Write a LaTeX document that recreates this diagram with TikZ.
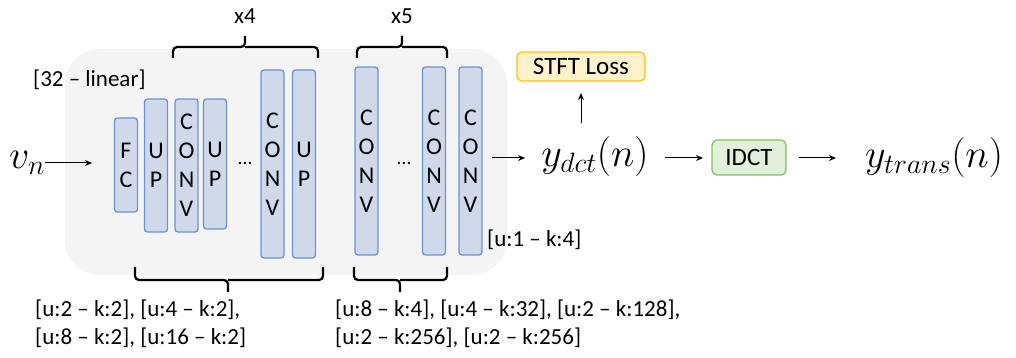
\RequirePackage{fix-cm}
\documentclass[tikz,border=0pt]{standalone}
\usepackage{fontspec}
\setmainfont{Carlito}
\usetikzlibrary{arrows.meta}
\definecolor{bgg}{HTML}{F4F4F4}
\definecolor{blkf}{HTML}{CFD9EA}
\definecolor{blkb}{HTML}{6A92D4}
\definecolor{grf}{HTML}{E2EFDA}
\definecolor{grb}{HTML}{7CC060}
\definecolor{ylf}{HTML}{FFF2CC}
\definecolor{ylb}{HTML}{FFC000}
\tikzset{
  blk/.style={draw=blkb, fill=blkf, line width=1.3pt, rounded corners=3pt,
    minimum width=23pt, inner sep=0pt, align=center,
    font=\fontsize{24}{29}\selectfont},
  lbl/.style={inner sep=0pt, font=\fontsize{23}{28}\selectfont},
  brc/.style={line width=2.2pt, rounded corners=4pt},
  arr/.style={line width=1pt, -{Stealth[length=7pt,width=6pt]}},
  mth/.style={inner sep=0pt, font=\fontsize{40}{44}\selectfont},
  boxg/.style={draw=grb, fill=grf, line width=1.2pt, rounded corners=5pt,
    minimum width=74pt, minimum height=35pt, inner sep=0pt,
    font=\fontsize{25}{28}\selectfont},
  boxy/.style={draw=ylb, fill=ylf, line width=1.2pt, rounded corners=5pt,
    minimum width=128pt, minimum height=29pt, inner sep=0pt,
    font=\fontsize{25}{28}\selectfont}
}
\begin{document}
\begin{tikzpicture}[x=1pt,y=-1pt]
\useasboundingbox (0,0) rectangle (1016,358);
% background
\fill[bgg, rounded corners=35pt] (65,49) rectangle (507,275);
% blocks
\node[blk, minimum height=94pt]  (fc)  at (126,165)   {F\\C};
\node[blk, minimum height=133pt] (up1) at (156,165.5) {U\\P};
\node[blk, minimum height=133pt] (cv1) at (186.5,165.5) {C\\O\\N\\V};
\node[blk, minimum height=130pt] (up2) at (215,164)   {U\\P};
\node[blk, minimum height=188pt] (cv2) at (272.5,164) {C\\O\\N\\V};
\node[blk, minimum height=188pt] (up3) at (304,164)   {U\\P};
\node[blk, minimum height=188pt] (cv3) at (366.5,161) {C\\O\\N\\V};
\node[blk, minimum height=188pt] (cv4) at (434,161)   {C\\O\\N\\V};
\node[blk, minimum height=188pt] (cv5) at (470.5,161) {C\\O\\N\\V};
\node[lbl, font=\fontsize{20}{24}\selectfont] (d1) at (245,163) {\dots};
\node[lbl, font=\fontsize{20}{24}\selectfont] (d2) at (404,163) {\dots};
% top braces
\draw[brc] (173,58) |- (245,47) -- (245,36);
\draw[brc] (318,58) |- (245,47);
\draw[brc] (357,58) |- (402,47) -- (402,36);
\draw[brc] (447,58) |- (402,47);
\node[lbl] (x4) at (245,16) {x4};
\node[lbl] (x5) at (402,16) {x5};
% bottom braces
\draw[brc] (135,267) |- (228,280) -- (228,292);
\draw[brc] (323,267) |- (228,280);
\draw[brc] (354,267) |- (400,280) -- (400,292);
\draw[brc] (447,267) |- (400,280);
% labels
\node[lbl, anchor=west] (lin) at (33,80) {[32 -- linear]};
\node[lbl, anchor=west] (uk) at (487,240) {[u:1 -- k:4]};
\node[lbl, anchor=north west, align=left] (bl) at (35,300)
  {[u:2 -- k:2], [u:4 -- k:2],\\{}[u:8 -- k:2], [u:16 -- k:2]};
\node[lbl, anchor=north west, align=left] (br) at (335,300)
  {[u:8 -- k:4], [u:4 -- k:32], [u:2 -- k:128],\\{}[u:2 -- k:256], [u:2 -- k:256]};
% math & right side
\node[mth] (vn) at (27,163) {$v_n$};
\node[mth] (ydct) at (595,157) {$y_{dct}(n)$};
\node[boxg] (idct) at (749,157.5) {IDCT};
\node[mth] (ytr) at (934,158) {$y_{trans}(n)$};
\node[boxy] (stft) at (581,66.5) {STFT Loss};
\coordinate (vnE) at (92,163);
\coordinate (outS) at (492,158);
\coordinate (outE) at (525,158);
\coordinate (lossS) at (581,123);
\coordinate (lossE) at (581,93);
\coordinate (a1) at (665,158);
\coordinate (a2) at (703,158);
\coordinate (b1) at (799,158);
\coordinate (b2) at (836,158);
\draw[arr] (vn.east) -- (vnE);
\draw[arr] (outS) -- (outE);
\draw[arr] (lossS) -- (lossE);
\draw[arr] (a1) -- (a2);
\draw[arr] (b1) -- (b2);
\end{tikzpicture}
\end{document}
